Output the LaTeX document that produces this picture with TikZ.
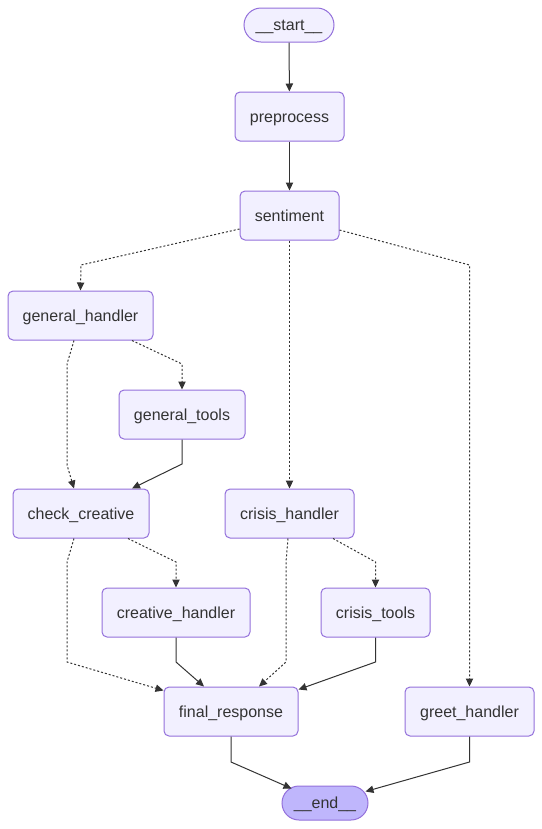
\documentclass[tikz,border=0pt]{standalone}
\usepackage{fontspec}
\setmainfont{Liberation Sans}
\usetikzlibrary{arrows.meta,calc}
\definecolor{nodefill}{HTML}{F2F0FF}
\definecolor{nodeline}{HTML}{9370DB}
\definecolor{endfill}{HTML}{BFB6FC}
\definecolor{ink}{HTML}{333333}
\begin{document}
\begin{tikzpicture}[x=0.75pt,y=-0.75pt,
  stepbox/.style={draw=nodeline, fill=nodefill, line width=0.75pt,
    rounded corners=3.75pt, minimum height=36.75pt, inner sep=0pt,
    text height=8.6pt, text depth=0pt,
    text=ink, font=\fontsize{12}{14}\selectfont},
  terminal/.style={stepbox, rounded corners=12.75pt, minimum height=25.5pt},
  flow/.style={draw=ink, line width=0.75pt, -{Triangle[length=6pt,width=5.5pt]}},
  optional/.style={flow, dash pattern=on 1.5pt off 1.5pt}]
\useasboundingbox (0,0) rectangle (542,829);

% nodes
\node[terminal, minimum width=67.5pt] (start) at (289,25) {\_\_start\_\_};
\node[stepbox, minimum width=81.75pt] (pre) at (289.5,116.5) {preprocess};
\node[stepbox, minimum width=74.25pt] (sent) at (289.5,215.5) {sentiment};
\node[stepbox, minimum width=108.75pt] (gh) at (80.5,315.5) {general\_handler};
\node[stepbox, minimum width=94.5pt] (gt) at (182,414.5) {general\_tools};
\node[stepbox, minimum width=102pt] (cc) at (81,513.5) {check\_creative};
\node[stepbox, minimum width=96.75pt] (crh) at (289.5,513.5) {crisis\_handler};
\node[stepbox, minimum width=111pt] (ch) at (176,612.5) {creative\_handler};
\node[stepbox, minimum width=81.75pt] (ct) at (375.5,612.5) {crisis\_tools};
\node[stepbox, minimum width=100.5pt] (fr) at (231,711.5) {final\_response};
\node[stepbox, minimum width=96.75pt] (greet) at (469.5,711.5) {greet\_handler};
\node[terminal, fill=endfill, minimum width=64.5pt] (end) at (325,803) {\_\_end\_\_};

% edges
\draw[flow] (start) -- (pre);
\draw[flow] (pre) -- (sent);
\draw[optional] ($(sent.west)+(0,13.5)$) -- (81,265) -- (gh.north);
\draw[optional] (sent) -- (crh);
\draw[optional] ($(sent.east)+(0,14.5)$) -- (469.5,265) -- (greet.north);
\draw[optional] ($(gh.south)+(51.5,0)$) -- (182,364) -- (gt.north);
\draw[optional] ($(gh.south)+(-6.5,0)$) -- (67,364) -- (67,465) -- ($(cc.north)+(-7,0)$);
\draw[flow] (gt.south) -- (182,464) -- ($(cc.north)+(51,0)$);
\draw[optional] ($(cc.south)+(47,0)$) -- (176,562) -- (ch.north);
\draw[optional] ($(cc.south)+(-7,0)$) -- (67,562) -- (67,662) -- ($(fr.north west)+(0,4)$);
\draw[flow] (ch.south) -- (176,662) -- ($(fr.north)+(-27,0)$);
\draw[optional] ($(crh.south)+(43.5,0)$) -- (375.5,562) -- (ct.north);
\draw[optional] ($(crh.south)+(-1.5,0)$) -- (286,562) -- (286,662) -- ($(fr.north)+(28,0)$);
\draw[flow] (ct.south) -- (375.5,662) -- ($(fr.north east)+(0,3)$);
\draw[flow] (fr.south) -- (231,762) -- ($(end.north west)+(10,3)$);
\draw[flow] (greet.south) -- (469.5,762) -- ($(end.north east)+(-3,6)$);
\end{tikzpicture}
\end{document}
